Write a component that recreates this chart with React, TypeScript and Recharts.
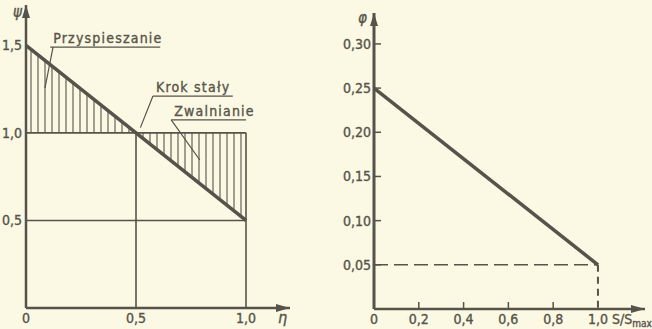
import React from "react";
import {
  ComposedChart,
  Line,
  Area,
  XAxis,
  YAxis,
  ReferenceLine,
  ReferenceDot,
} from "recharts";

// left chart: psi against eta
const etaValues = [0, 0.5, 1.0];
const psiValues = [1.5, 1.0, 0.5];
const psiSteady = 1.0;
const etaTicks = [0, 0.5, 1.0];
const psiTicks = [0.5, 1.0, 1.5];

// right chart: phi against S/Smax
const sValues = [0, 1.0];
const phiValues = [0.25, 0.05];
const sTicks = [0, 0.2, 0.4, 0.6, 0.8, 1.0];
const phiTicks = [0.05, 0.1, 0.15, 0.2, 0.25, 0.3];

const INK = "#57534a";
const PAPER = "#fbf9e3";
const FONT = "'Liberation Sans Narrow', 'DejaVu Sans Condensed', sans-serif";

const leftData = etaValues.map((eta, i) => ({
  eta,
  psi: psiValues[i],
  band: [Math.min(psiValues[i], psiSteady), Math.max(psiValues[i], psiSteady)],
}));

const rightData = sValues.map((s, i) => ({ s, phi: phiValues[i] }));

const comma = (v: number, digits: number) =>
  v === 0 ? "0" : v.toFixed(digits).replace(".", ",");

const textStyle = {
  fill: INK,
  fontSize: 14,
  fontFamily: FONT,
  stroke: INK,
  strokeWidth: 0.35,
};

const UpArrow = (p: any) => (
  <path d={`M${p.cx},${p.cy} l-4,13 l8,0 z`} fill={INK} />
);
const RightArrow = (p: any) => (
  <path d={`M${p.cx},${p.cy} l-14,-4 l0,8 z`} fill={INK} />
);

const AnnText = (props: any) => {
  const vb = props.viewBox;
  if (!vb) return null;
  return (
    <text x={vb.x + 3} y={vb.y - 4} letterSpacing={1.2} {...textStyle}>
      {props.text}
    </text>
  );
};

const LeftYTick = (p: any) => (
  <text x={p.x} y={p.y} dy={5} textAnchor="end" {...textStyle}>
    {comma(p.payload.value, 1)}
  </text>
);

const LeftXTick = (p: any) => (
  <text x={p.x} y={p.y} dy={11} textAnchor="middle" {...textStyle}>
    {comma(p.payload.value, 1)}
  </text>
);

const RightYTick = (p: any) => (
  <g>
    <line x1={p.x + 3} x2={p.x + 10} y1={p.y} y2={p.y} stroke={INK} strokeWidth={1.5} />
    <text x={p.x} y={p.y} dy={5} textAnchor="end" {...textStyle}>
      {comma(p.payload.value, 2)}
    </text>
  </g>
);

const RightXTick = (p: any) => {
  const v = p.payload.value;
  const mark = v > 0 && v < 1;
  return (
    <g>
      {mark && (
        <line x1={p.x} x2={p.x} y1={p.y - 11} y2={p.y - 4} stroke={INK} strokeWidth={1.5} />
      )}
      <text x={p.x} y={p.y} dy={11} textAnchor="middle" {...textStyle}>
        {comma(v, 1)}
      </text>
    </g>
  );
};

function LeftChart() {
  return (
    <ComposedChart
      width={330}
      height={329}
      data={leftData}
      margin={{ top: 5, right: 40, bottom: 0, left: 0 }}
    >
      <defs>
        <pattern id="hatch" width={7} height={10} patternUnits="userSpaceOnUse">
          <line x1={3} x2={3} y1={0} y2={10} stroke={INK} strokeWidth={1.1} />
        </pattern>
      </defs>
      <XAxis
        dataKey="eta"
        type="number"
        domain={[0, 1.2]}
        ticks={etaTicks}
        height={21}
        tickSize={0}
        tickMargin={4}
        tick={<LeftXTick />}
        stroke={INK}
        strokeWidth={2.5}
        label={(p: any) => (
          <text
            x={p.viewBox.x + p.viewBox.width - 12}
            y={p.viewBox.y + 15}
            fontStyle="italic"
            {...textStyle}
            fontSize={16}
          >
            η
          </text>
        )}
      />
      <YAxis
        type="number"
        domain={[0, 1.73]}
        ticks={psiTicks}
        width={26}
        tickSize={0}
        tickMargin={4}
        tick={<LeftYTick />}
        stroke={INK}
        strokeWidth={2.5}
        label={(p: any) => (
          <text
            x={p.viewBox.x + 13}
            y={p.viewBox.y + 12}
            fontStyle="italic"
            {...textStyle}
            fontSize={15}
          >
            ψ
          </text>
        )}
      />
      <Area
        dataKey="band"
        type="linear"
        stroke="none"
        fill="url(#hatch)"
        fillOpacity={1}
        isAnimationActive={false}
      />
      <ReferenceLine segment={[{ x: 0, y: 1.0 }, { x: 1.0, y: 1.0 }]} stroke={INK} strokeWidth={1.6} />
      <ReferenceLine segment={[{ x: 0, y: 0.5 }, { x: 1.0, y: 0.5 }]} stroke={INK} strokeWidth={1.6} />
      <ReferenceLine segment={[{ x: 0.5, y: 0 }, { x: 0.5, y: 1.0 }]} stroke={INK} strokeWidth={1.6} />
      <ReferenceLine segment={[{ x: 1.0, y: 0 }, { x: 1.0, y: 1.0 }]} stroke={INK} strokeWidth={1.6} />
      <Line
        dataKey="psi"
        type="linear"
        stroke={INK}
        strokeWidth={3.5}
        dot={false}
        isAnimationActive={false}
      />
      {/* annotations */}
      <ReferenceLine
        segment={[{ x: 0.11, y: 1.49 }, { x: 0.61, y: 1.49 }]}
        stroke={INK}
        strokeWidth={1.2}
        label={<AnnText text="Przyspieszanie" />}
      />
      <ReferenceLine segment={[{ x: 0.123, y: 1.49 }, { x: 0.086, y: 1.256 }]} stroke={INK} strokeWidth={1.2} />
      <ReferenceLine
        segment={[{ x: 0.577, y: 1.21 }, { x: 0.94, y: 1.21 }]}
        stroke={INK}
        strokeWidth={1.2}
        label={<AnnText text="Krok stały" />}
      />
      <ReferenceLine segment={[{ x: 0.577, y: 1.21 }, { x: 0.52, y: 1.03 }]} stroke={INK} strokeWidth={1.2} />
      <ReferenceLine
        segment={[{ x: 0.66, y: 1.074 }, { x: 1.0, y: 1.074 }]}
        stroke={INK}
        strokeWidth={1.2}
        label={<AnnText text="Zwalnianie" />}
      />
      <ReferenceLine segment={[{ x: 0.66, y: 1.074 }, { x: 0.79, y: 0.845 }]} stroke={INK} strokeWidth={1.2} />
      <ReferenceDot x={0} y={1.73} r={0} shape={UpArrow} ifOverflow="visible" />
      <ReferenceDot x={1.2} y={0} r={0} shape={RightArrow} ifOverflow="visible" />
    </ComposedChart>
  );
}

function RightChart() {
  return (
    <ComposedChart
      width={322}
      height={329}
      data={rightData}
      margin={{ top: 13, right: 7, bottom: 0, left: 0 }}
    >
      <XAxis
        dataKey="s"
        type="number"
        domain={[0, 1.21]}
        ticks={sTicks}
        height={20}
        tickSize={0}
        tickMargin={4}
        tick={<RightXTick />}
        stroke={INK}
        strokeWidth={2.5}
        label={(p: any) => (
          <text x={p.viewBox.x + 238} y={p.viewBox.y + 15} {...textStyle}>
            S/S
            <tspan fontSize={10} dy={3}>
              max
            </tspan>
          </text>
        )}
      />
      <YAxis
        type="number"
        domain={[0, 0.335]}
        ticks={phiTicks}
        width={44}
        tickSize={0}
        tickMargin={3}
        tick={<RightYTick />}
        stroke={INK}
        strokeWidth={3}
        label={(p: any) => (
          <text
            x={p.viewBox.x + 28}
            y={p.viewBox.y + 10}
            fontStyle="italic"
            {...textStyle}
            fontSize={15}
          >
            φ
          </text>
        )}
      />
      <ReferenceLine
        segment={[{ x: 0, y: 0.05 }, { x: 1.0, y: 0.05 }]}
        stroke={INK}
        strokeWidth={1.4}
        strokeDasharray="14 6"
      />
      <ReferenceLine
        segment={[{ x: 1.0, y: 0.05 }, { x: 1.0, y: 0 }]}
        stroke={INK}
        strokeWidth={2}
        strokeDasharray="7 5"
      />
      <Line
        dataKey="phi"
        type="linear"
        stroke={INK}
        strokeWidth={3.5}
        dot={false}
        isAnimationActive={false}
      />
      <ReferenceDot x={0} y={0.335} r={0} shape={UpArrow} ifOverflow="visible" />
      <ReferenceDot x={1.21} y={0} r={0} shape={RightArrow} ifOverflow="visible" />
    </ComposedChart>
  );
}

export default function App() {
  return (
    <div
      style={{
        position: "absolute",
        left: 0,
        top: 0,
        width: 652,
        height: 329,
        background: PAPER,
        display: "flex",
        fontFamily: FONT,
      }}
    >
      <LeftChart />
      <RightChart />
    </div>
  );
}
